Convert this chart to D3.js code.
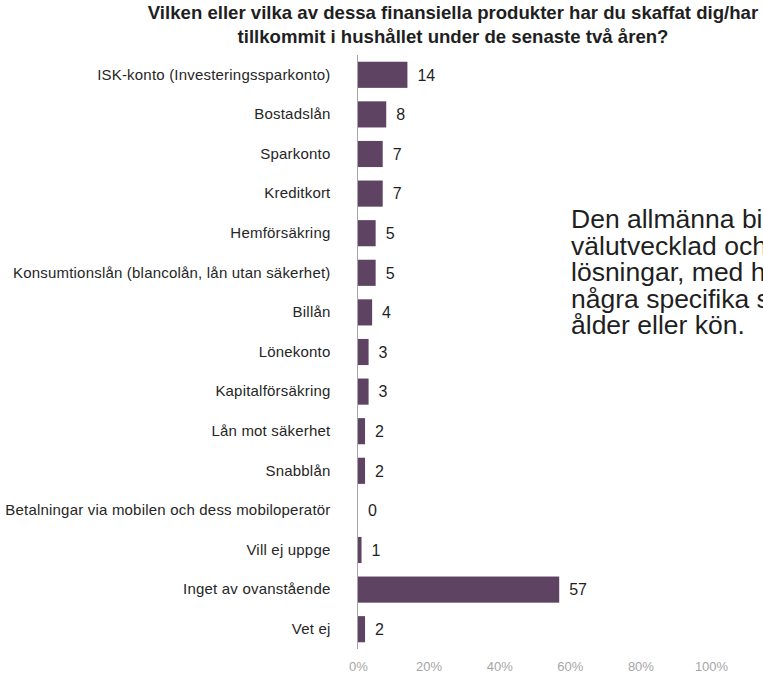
<!DOCTYPE html>
<html>
<head>
<meta charset="utf-8">
<script src="https://cdn.jsdelivr.net/npm/d3@7"></script>
<style>
  html, body { margin: 0; padding: 0; background: #fff; }
  svg { display: block; font-family: "Liberation Sans", Arial, sans-serif; }
</style>
</head>
<body>
<svg id="chart" width="763" height="675"></svg>
<script>
// Survey: financial products acquired during the last two years (share of respondents, %)
const categories = [
  "ISK-konto (Investeringssparkonto)",
  "Bostadslån",
  "Sparkonto",
  "Kreditkort",
  "Hemförsäkring",
  "Konsumtionslån (blancolån, lån utan säkerhet)",
  "Billån",
  "Lönekonto",
  "Kapitalförsäkring",
  "Lån mot säkerhet",
  "Snabblån",
  "Betalningar via mobilen och dess mobiloperatör",
  "Vill ej uppge",
  "Inget av ovanstående",
  "Vet ej"
];
const values = [14, 8, 7, 7, 5, 5, 4, 3, 3, 2, 2, 0, 1, 57, 2];
const tickValues = [0, 20, 40, 60, 80, 100];
const titleLines = [
  "Vilken eller vilka av dessa finansiella produkter har du skaffat dig/har",
  "tillkommit i hushållet under de senaste två åren?"
];
const noteLines = [
  "Den allmänna bi",
  "välutvecklad och",
  "lösningar, med h",
  "några specifika s",
  "ålder eller kön."
];

const svg = d3.select("#chart");
const barColor = "#5e4462";

const x = d3.scaleLinear().domain([0, 100]).range([358, 711]);
const y = d3.scaleBand().domain(categories).range([55, 649]).paddingInner(0.34).paddingOuter(0.17);

// Title
svg.append("g").selectAll("text").data(titleLines).join("text")
  .attr("x", 453)
  .attr("y", (d, i) => 19 + i * 24)
  .attr("text-anchor", "middle")
  .attr("font-size", 18.6)
  .attr("font-weight", "bold")
  .attr("fill", "#1f1f1f")
  .text(d => d);

// Bars
svg.append("g").selectAll("rect").data(values).join("rect")
  .attr("x", x(0))
  .attr("y", (d, i) => y(categories[i]))
  .attr("width", d => x(d) - x(0))
  .attr("height", y.bandwidth())
  .attr("fill", barColor);

// Value labels
svg.append("g").selectAll("text").data(values).join("text")
  .attr("x", d => x(d) + 10)
  .attr("y", (d, i) => y(categories[i]) + y.bandwidth() / 2)
  .attr("dy", "0.36em")
  .attr("font-size", 16)
  .attr("fill", "#1f1f1f")
  .text(d => d);

// Category axis (left)
const yAxis = svg.append("g")
  .attr("transform", `translate(${x(0) - 0.5},0)`)
  .call(d3.axisLeft(y).tickSize(0).tickPadding(27));
yAxis.select(".domain").attr("stroke", "#a6a6a6").attr("d", "M0,55V649");
yAxis.selectAll(".tick text")
  .attr("font-size", 15)
  .attr("letter-spacing", "0.2px")
  .attr("font-family", "Liberation Sans, Arial, sans-serif")
  .attr("fill", "#262626");

// Percentage axis (bottom), no line
const xAxis = svg.append("g")
  .attr("transform", "translate(0,662)")
  .call(d3.axisBottom(x).tickValues(tickValues).tickFormat(d => d + "%").tickSize(0).tickPadding(0));
xAxis.select(".domain").remove();
xAxis.selectAll(".tick text")
  .attr("dy", "0.71em")
  .attr("font-size", 13)
  .attr("font-family", "Liberation Sans, Arial, sans-serif")
  .attr("fill", "#a6a6a6");

// Side note
svg.append("g").selectAll("text").data(noteLines).join("text")
  .attr("x", 571)
  .attr("y", (d, i) => 228 + i * 26.5)
  .attr("font-size", 26.5)
  .attr("fill", "#1f1f1f")
  .text(d => d);
</script>
</body>
</html>
